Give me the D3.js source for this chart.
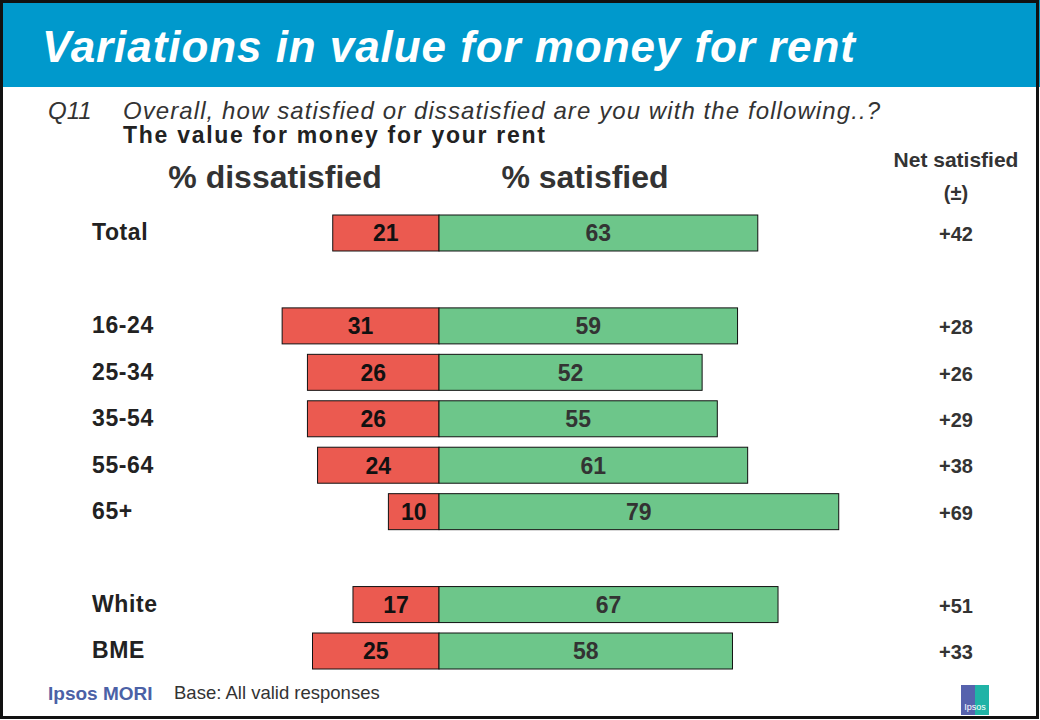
<!DOCTYPE html>
<html>
<head>
<meta charset="utf-8">
<script src="https://cdn.jsdelivr.net/npm/d3@7"></script>
<style>
  body { margin: 0; background: #fff; }
  svg text { font-family: "Liberation Sans", Arial, sans-serif; }
</style>
</head>
<body>
<script>
// chart data
const groups = ["Total", "", "16-24", "25-34", "35-54", "55-64", "65+", " ", "White", "BME"];
const dissatisfied = [21, null, 31, 26, 26, 24, 10, null, 17, 25];
const satisfied = [63, null, 59, 52, 55, 61, 79, null, 67, 58];
const netSatisfied = ["+42", "", "+28", "+26", "+29", "+38", "+69", "", "+51", "+33"];

const rows = groups.map((g, i) => ({
  group: g, dis: dissatisfied[i], sat: satisfied[i], net: netSatisfied[i]
})).filter(d => d.dis !== null);

const W = 1040, H = 720;
const svg = d3.select("body").append("svg").attr("width", W).attr("height", H);

// header band
svg.append("rect").attr("x", 0).attr("y", 0).attr("width", W).attr("height", 87).attr("fill", "#0099cc");
svg.append("text")
  .attr("x", 42).attr("y", 62)
  .attr("fill", "#fff")
  .attr("textLength", 813).attr("lengthAdjust", "spacing")
  .style("font-size", "44px").style("font-weight", "bold").style("font-style", "italic")
  .text("Variations in value for money for rent");

// question
svg.append("text").attr("x", 48).attr("y", 119)
  .attr("fill", "#333").style("font-size", "24px").style("font-style", "italic")
  .text("Q11");
svg.append("text").attr("x", 123).attr("y", 119)
  .attr("fill", "#333").style("font-size", "24px").style("font-style", "italic")
  .attr("textLength", 757).attr("lengthAdjust", "spacing")
  .text("Overall, how satisfied or dissatisfied are you with the following..?");
svg.append("text").attr("x", 123).attr("y", 143)
  .attr("fill", "#222").style("font-size", "23px").style("font-weight", "bold")
  .attr("textLength", 422).attr("lengthAdjust", "spacing")
  .text("The value for money for your rent");

// column headers
svg.append("text").attr("x", 275).attr("y", 188).attr("text-anchor", "middle")
  .attr("fill", "#333").style("font-size", "32px").style("font-weight", "bold")
  .text("% dissatisfied");
svg.append("text").attr("x", 585).attr("y", 188).attr("text-anchor", "middle")
  .attr("fill", "#333").style("font-size", "32px").style("font-weight", "bold")
  .text("% satisfied");
svg.append("text").attr("x", 956).attr("y", 167).attr("text-anchor", "middle")
  .attr("fill", "#333").style("font-size", "21px").style("font-weight", "bold")
  .text("Net satisfied");
svg.append("text").attr("x", 956).attr("y", 200).attr("text-anchor", "middle")
  .attr("fill", "#333").style("font-size", "20px").style("font-weight", "bold")
  .text("(±)");

// scales
const x = d3.scaleLinear().domain([-31, 79]).range([439 - 31 * 5.06, 439 + 79 * 5.06]);
const y = d3.scaleBand().domain(groups).range([215, 669]).paddingInner(0.225).paddingOuter(0);

const g = svg.append("g");
const row = g.selectAll("g.row").data(rows).join("g").attr("class", "row");

row.append("rect")
  .attr("x", d => x(-d.dis)).attr("y", d => y(d.group))
  .attr("width", d => x(0) - x(-d.dis)).attr("height", y.bandwidth())
  .attr("fill", "#eb5a50").attr("stroke", "#111").attr("stroke-width", 1);
row.append("rect")
  .attr("x", x(0)).attr("y", d => y(d.group))
  .attr("width", d => x(d.sat) - x(0)).attr("height", y.bandwidth())
  .attr("fill", "#6dc68a").attr("stroke", "#111").attr("stroke-width", 1);

row.append("text")
  .attr("x", d => (x(-d.dis) + x(0)) / 2).attr("y", d => y(d.group) + y.bandwidth() / 2)
  .attr("dy", "0.36em").attr("text-anchor", "middle")
  .attr("fill", "#111").style("font-size", "23px").style("font-weight", "bold")
  .text(d => d.dis);
row.append("text")
  .attr("x", d => (x(d.sat) + x(0)) / 2).attr("y", d => y(d.group) + y.bandwidth() / 2)
  .attr("dy", "0.36em").attr("text-anchor", "middle")
  .attr("fill", "#333").style("font-size", "23px").style("font-weight", "bold")
  .text(d => d.sat);

row.append("text")
  .attr("x", 92).attr("y", d => y(d.group) + y.bandwidth() / 2 - 1)
  .attr("dy", "0.36em")
  .attr("fill", "#222").style("font-size", "23px").style("font-weight", "bold")
  .style("letter-spacing", "0.6px")
  .text(d => d.group);
row.append("text")
  .attr("x", 956).attr("y", d => y(d.group) + y.bandwidth() / 2 + 1)
  .attr("dy", "0.36em").attr("text-anchor", "middle")
  .attr("fill", "#333").style("font-size", "20px").style("font-weight", "bold")
  .text(d => d.net);

// footer
svg.append("text").attr("x", 48).attr("y", 700)
  .attr("fill", "#4b61a6").style("font-size", "19px").style("font-weight", "bold")
  .text("Ipsos MORI");
svg.append("text").attr("x", 174).attr("y", 699)
  .attr("fill", "#333").style("font-size", "18.5px")
  .text("Base: All valid responses");

// small logo
const logo = svg.append("g").attr("transform", "translate(961,685)");
logo.append("rect").attr("width", 14).attr("height", 30).attr("fill", "#5662ad");
logo.append("rect").attr("x", 14).attr("width", 14).attr("height", 30).attr("fill", "#20b3a6");
logo.append("text").attr("x", 14).attr("y", 25).attr("text-anchor", "middle")
  .attr("fill", "#fff").style("font-size", "9px").text("Ipsos");

// outer border
svg.append("rect").attr("x", 1.5).attr("y", 1.5).attr("width", W - 4).attr("height", H - 4)
  .attr("fill", "none").attr("stroke", "#111").attr("stroke-width", 3);
</script>
</body>
</html>
